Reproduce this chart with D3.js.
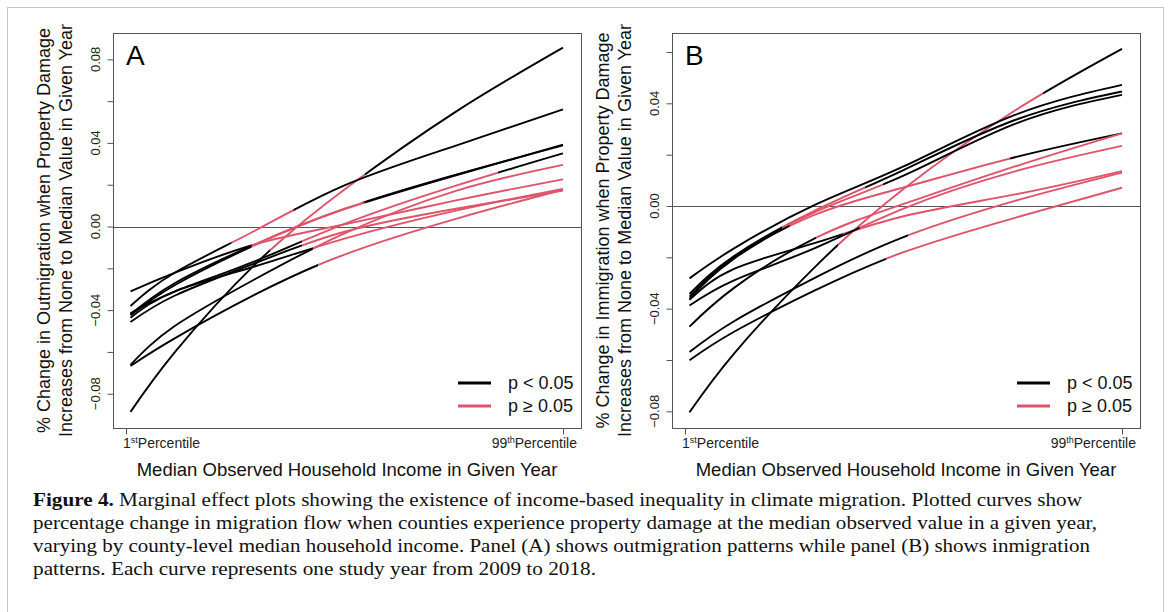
<!DOCTYPE html>
<html>
<head>
<meta charset="utf-8">
<script src="https://cdn.jsdelivr.net/npm/d3@7"></script>
<style>
  html, body { margin: 0; padding: 0; background: #fff; }
  svg { display: block; }
</style>
</head>
<body>
<svg id="fig" width="1171" height="612"></svg>
<script>
// Income percentiles at which each yearly marginal-effect curve is sampled
const incomeGrid = [2, 12, 30, 50, 75, 99];
const incomeDomain = [-1.92, 103.04];
const xTickValues = [1, 99];
const xTickNumbers = ["1", "99"];
const xTickOrdinals = ["st", "th"];

// Panel A: outmigration effects (one row per study year)
const outEffects = [
  [-0.0887, -0.0600, -0.0180,  0.0177, 0.0550, 0.0856],
  [-0.0380, -0.0220, -0.0019,  0.0197, 0.0387, 0.0561],
  [-0.0420, -0.0270, -0.0084,  0.0085, 0.0248, 0.0388],
  [-0.0425, -0.0280, -0.0088,  0.0083, 0.0245, 0.0392],
  [-0.0310, -0.0221, -0.0085,  0.0010, 0.0125, 0.0226],
  [-0.0415, -0.0310, -0.0165,  0.0013, 0.0196, 0.0350],
  [-0.0662, -0.0475, -0.0251, -0.0033, 0.0171, 0.0295],
  [-0.0667, -0.0534, -0.0325, -0.0134, 0.0037, 0.0176],
  [-0.0436, -0.0310, -0.0190, -0.0058, 0.0076, 0.0180],
  [-0.0457, -0.0330, -0.0175, -0.0025, 0.0085, 0.0172]
];
// Income range (percentiles) where the effect is not significant (p >= 0.05)
const outNotSignificant = [
  [33.3, 54.6], [24.7, 38.5], [29.2, 53.9], [29.2, 54.5], [29.2, 99],
  [40.5, 84.4], [42.9, 99], [44.1, 99], [42.9, 99], [40.5, 99]
];

// Panel B: inmigration effects
const inEffects = [
  [-0.0804, -0.0575, -0.0240,  0.0066,  0.0372, 0.0612],
  [-0.0282, -0.0165,  0.0003,  0.0154,  0.0355, 0.0472],
  [-0.0343, -0.0195, -0.0019,  0.0140,  0.0335, 0.0446],
  [-0.0353, -0.0200, -0.0025,  0.0118,  0.0320, 0.0433],
  [-0.0362, -0.0205, -0.0035,  0.0072,  0.0190, 0.0283],
  [-0.0366, -0.0245, -0.0145, -0.0040,  0.0045, 0.0136],
  [-0.0388, -0.0290, -0.0165, -0.0010,  0.0135, 0.0234],
  [-0.0470, -0.0319, -0.0127,  0.0008,  0.0154, 0.0283],
  [-0.0569, -0.0449, -0.0281, -0.0121,  0.0020, 0.0130],
  [-0.0601, -0.0490, -0.0330, -0.0180, -0.0046, 0.0071]
];
const inNotSignificant = [
  [35.3, 81.3], null, [22.75, 41.4], [22.75, 45.4], [24.5, 73.9],
  [36.4, 99], [40.2, 99], [30.5, 99], [51.1, 99], [46.2, 99]
];

const yTicksA = [-0.08, -0.06, -0.04, -0.02, 0, 0.02, 0.04, 0.06, 0.08];
const yLabelsA = [-0.08, -0.04, 0, 0.04, 0.08];
const yTicksB = [-0.08, -0.06, -0.04, -0.02, 0, 0.02, 0.04, 0.06];
const yLabelsB = [-0.08, -0.04, 0, 0.04];

const outTitle = ["% Change in Outmigration when Property Damage",
                  "Increases from None to Median Value in Given Year"];
const inTitle  = ["% Change in Immigration when Property Damage",
                  "Increases from None to Median Value in Given Year"];
const xTitle = "Median Observed Household Income in Given Year";
const legendLabels = ["p < 0.05", "p \u2265 0.05"];
const captionBold = "Figure 4.";
const captionLines = [
  " Marginal effect plots showing the existence of income-based inequality in climate migration. Plotted curves show",
  "percentage change in migration flow when counties experience property damage at the median observed value in a given year,",
  "varying by county-level median household income. Panel (A) shows outmigration patterns while panel (B) shows inmigration",
  "patterns. Each curve represents one study year from 2009 to 2018."
];

const SIG = "#000000";
const NOT_SIG = "#DF536B";
const SANS = "'Liberation Sans', Arial, Helvetica, sans-serif";
const SERIF = "'Liberation Serif', 'Times New Roman', serif";

const svg = d3.select("#fig");
const defs = svg.append("defs");

// outer figure frame
svg.append("rect")
  .attr("x", 7.5).attr("y", 7.5).attr("width", 1156).attr("height", 700)
  .attr("fill", "none").attr("stroke", "#c6c6c6").attr("stroke-width", 1);

const panels = [
  { key: "A", left: 113, right: 581, yDomain: [-0.0964, 0.0926],
    effects: outEffects, ns: outNotSignificant,
    yTicks: yTicksA, yLabels: yLabelsA, title: outTitle },
  { key: "B", left: 672, right: 1140, yDomain: [-0.0865, 0.0674],
    effects: inEffects, ns: inNotSignificant,
    yTicks: yTicksB, yLabels: yLabelsB, title: inTitle }
];

const TOP = 33, BOTTOM = 428;

panels.forEach(p => {
  const x = d3.scaleLinear().domain(incomeDomain).range([p.left, p.right]);
  const y = d3.scaleLinear().domain(p.yDomain).range([BOTTOM, TOP]);
  const g = svg.append("g");

  // reference line at zero
  g.append("line")
    .attr("x1", p.left).attr("x2", p.right)
    .attr("y1", Math.round(y(0)) + 0.5).attr("y2", Math.round(y(0)) + 0.5)
    .attr("stroke", "#555").attr("stroke-width", 1);

  const line = d3.line()
    .x((d, j) => x(incomeGrid[j]))
    .y(d => y(d))
    .curve(d3.curveNatural);

  p.effects.forEach((vals, k) => {
    const range = p.ns[k];
    const d = line(vals);
    const id = `clip${p.key}${k}`;
    if (!range) {
      g.append("path").attr("d", d).attr("fill", "none")
        .attr("stroke", SIG).attr("stroke-width", 1.9);
      return;
    }
    const a = x(range[0]);
    const b = range[1] >= 99 ? x(99) + 4 : x(range[1]);
    const cs = defs.append("clipPath").attr("id", id + "s");
    cs.append("rect").attr("x", 0).attr("y", 0).attr("width", a).attr("height", 612);
    cs.append("rect").attr("x", b).attr("y", 0).attr("width", 1171 - b).attr("height", 612);
    const cn = defs.append("clipPath").attr("id", id + "n");
    cn.append("rect").attr("x", a).attr("y", 0).attr("width", b - a).attr("height", 612);

    g.append("path").attr("d", d).attr("fill", "none")
      .attr("stroke", SIG).attr("stroke-width", 1.9)
      .attr("clip-path", `url(#${id}s)`);
    g.append("path").attr("d", d).attr("fill", "none")
      .attr("stroke", NOT_SIG).attr("stroke-width", 1.9)
      .attr("clip-path", `url(#${id}n)`);
  });

  // plot box
  g.append("rect")
    .attr("x", p.left + 0.5).attr("y", TOP + 0.5)
    .attr("width", p.right - p.left).attr("height", BOTTOM - TOP)
    .attr("fill", "none").attr("stroke", "#555").attr("stroke-width", 1);

  // y axis ticks
  const yAxis = g.append("g")
    .attr("transform", `translate(${p.left + 0.5},0)`)
    .call(d3.axisLeft(y).tickValues(p.yTicks).tickSize(6).tickFormat(""));
  yAxis.select(".domain").remove();
  yAxis.selectAll(".tick line").attr("stroke", "#555");

  const fmt = d3.format(".2f");
  g.selectAll(".ylab").data(p.yLabels).join("text")
    .attr("transform", v => `translate(${p.left - 18},${y(v)}) rotate(-90)`)
    .attr("text-anchor", "middle")
    .attr("dominant-baseline", "central")
    .attr("font-family", SANS).attr("font-size", 13).attr("fill", "#222")
    .text(v => fmt(v));

  // x axis ticks
  const xAxis = g.append("g")
    .attr("transform", `translate(0,${BOTTOM + 0.5})`)
    .call(d3.axisBottom(x).tickValues(xTickValues).tickSize(6).tickFormat(""));
  xAxis.select(".domain").remove();
  xAxis.selectAll(".tick line").attr("stroke", "#555");

  xTickValues.forEach((v, i) => {
    const t = g.append("text")
      .attr("y", 448)
      .attr("font-family", SANS).attr("font-size", 14).attr("fill", "#222");
    if (i === 0) t.attr("x", x(v) - 3).attr("text-anchor", "start");
    else t.attr("x", x(v) + 14).attr("text-anchor", "end");
    t.append("tspan").text(xTickNumbers[i]);
    t.append("tspan").attr("font-size", 9).attr("dy", -5).text(xTickOrdinals[i]);
    t.append("tspan").attr("dy", 5).text("Percentile");
  });

  // axis titles
  g.append("text")
    .attr("x", (p.left + p.right) / 2).attr("y", 476)
    .attr("text-anchor", "middle")
    .attr("font-family", SANS).attr("font-size", 18.5).attr("fill", "#111")
    .text(xTitle);

  p.title.forEach((s, i) => {
    g.append("text")
      .attr("transform", `translate(${p.left - 69 + i * 22},${(TOP + BOTTOM) / 2}) rotate(-90)`)
      .attr("text-anchor", "middle")
      .attr("dominant-baseline", "central")
      .attr("font-family", SANS).attr("font-size", 18).attr("fill", "#111")
      .text(s);
  });

  // panel letter
  g.append("text")
    .attr("x", p.left + 13).attr("y", 65)
    .attr("font-family", SANS).attr("font-size", 28).attr("fill", "#000")
    .text(p.key);

  // legend
  const lx = p.right - 123;
  [SIG, NOT_SIG].forEach((c, i) => {
    const ly = 383 + i * 23;
    g.append("line")
      .attr("x1", lx).attr("x2", lx + 33)
      .attr("y1", ly).attr("y2", ly)
      .attr("stroke", c).attr("stroke-width", 3);
    g.append("text")
      .attr("x", p.right - 73).attr("y", ly)
      .attr("dominant-baseline", "central")
      .attr("font-family", SANS).attr("font-size", 18).attr("fill", "#111")
      .text(legendLabels[i]);
  });
});

// caption
const capWidths = [1049, 1064, 1057, 563];
captionLines.forEach((s, i) => {
  const t = svg.append("text")
    .attr("x", 33).attr("y", 506 + i * 23)
    .attr("font-family", SERIF).attr("font-size", 18).attr("fill", "#111")
    .attr("textLength", capWidths[i])
    .attr("lengthAdjust", "spacingAndGlyphs");
  if (i === 0) t.append("tspan").attr("font-weight", "bold").text(captionBold);
  t.append("tspan").text(s);
});
</script>
</body>
</html>
